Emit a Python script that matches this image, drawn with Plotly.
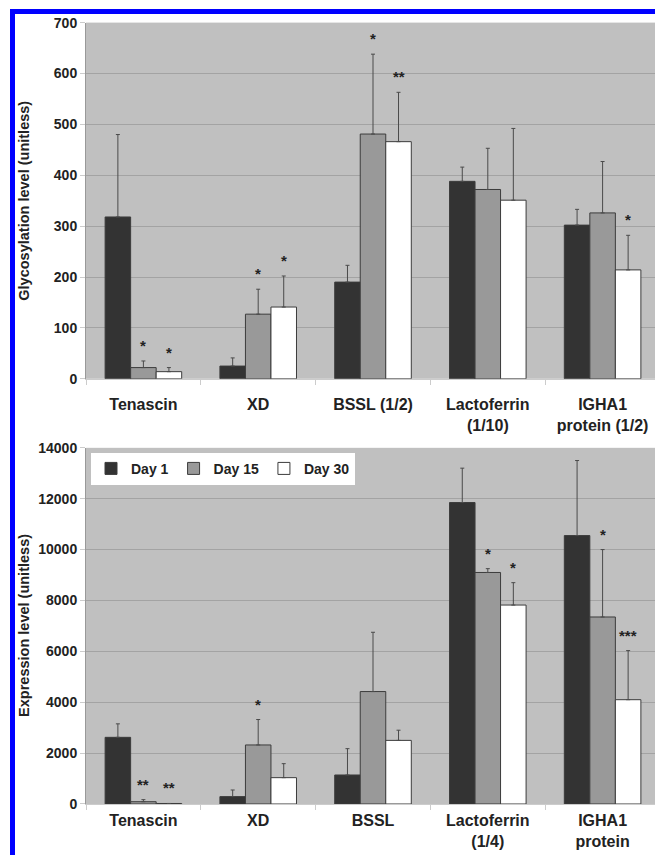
import plotly.graph_objects as go

# ---------------- data ----------------
categories_glyco = ["Tenascin", "XD", "BSSL (1/2)", "Lactoferrin<br>(1/10)", "IGHA1<br>protein (1/2)"]
categories_expr = ["Tenascin", "XD", "BSSL", "Lactoferrin<br>(1/4)", "IGHA1<br>protein"]
series_names = ["Day 1", "Day 15", "Day 30"]

glyco_day1 = [318, 25, 190, 388, 302]
glyco_day15 = [22, 127, 481, 372, 326]
glyco_day30 = [14, 141, 466, 351, 214]
glyco_err_day1 = [162, 16, 33, 28, 31]
glyco_err_day15 = [13, 49, 157, 81, 101]
glyco_err_day30 = [8, 61, 97, 141, 68]
glyco_sig_day1 = ["", "", "", "", ""]
glyco_sig_day15 = ["*", "*", "*", "", ""]
glyco_sig_day30 = ["*", "*", "**", "", "*"]

expr_day1 = [2620, 290, 1140, 11850, 10550]
expr_day15 = [90, 2320, 4420, 9100, 7350]
expr_day30 = [20, 1035, 2500, 7820, 4100]
expr_err_day1 = [530, 260, 1035, 1350, 2950]
expr_err_day15 = [80, 1000, 2330, 150, 2650]
expr_err_day30 = [0, 550, 400, 880, 1930]
expr_sig_day1 = ["", "", "", "", ""]
expr_sig_day15 = ["**", "*", "", "*", "*"]
expr_sig_day30 = ["**", "", "", "*", "***"]

glyco_ticks = [0, 100, 200, 300, 400, 500, 600, 700]
expr_ticks = [0, 2000, 4000, 6000, 8000, 10000, 12000, 14000]

glyco_title = "Glycosylation level (unitless)"
expr_title = "Expression level (unitless)"

# ---------------- style ----------------
colors = ["#333333", "#999999", "#ffffff"]
FONT = "Liberation Sans, Arial, sans-serif"
TXT = "#222222"
W, H = 655, 855
BARGAP = 0.333
bar_w = (1 - BARGAP) / 3


def py(y_px):
    """target pixel row -> paper fraction (compensates the capture's vertical fit)"""
    return 1 - ((y_px - 7.4) / 0.9808) / H


panels = [
    dict(cats=categories_glyco, vals=[glyco_day1, glyco_day15, glyco_day30],
         errs=[glyco_err_day1, glyco_err_day15, glyco_err_day30],
         sigs=[glyco_sig_day1, glyco_sig_day15, glyco_sig_day30],
         xa="x", ya="y", legend=False),
    dict(cats=categories_expr, vals=[expr_day1, expr_day15, expr_day30],
         errs=[expr_err_day1, expr_err_day15, expr_err_day30],
         sigs=[expr_sig_day1, expr_sig_day15, expr_sig_day30],
         xa="x2", ya="y2", legend=True),
]

fig = go.Figure()
annotations = []
for p in panels:
    for i, name in enumerate(series_names):
        fig.add_trace(go.Bar(
            x=p["cats"], y=p["vals"][i], name=name,
            marker=dict(color=colors[i], line=dict(color="#3c3c3c", width=1)),
            error_y=dict(type="data", symmetric=False, array=p["errs"][i],
                         arrayminus=[0] * len(p["errs"][i]),
                         color="#4a4a4a", thickness=1, width=2),
            xaxis=p["xa"], yaxis=p["ya"], showlegend=p["legend"],
            legendgroup=name,
        ))
        for j, s in enumerate(p["sigs"][i]):
            if s:
                annotations.append(dict(
                    x=j + (i - 1) * bar_w, y=p["vals"][i][j] + p["errs"][i][j],
                    xref=p["xa"], yref=p["ya"], text=s, showarrow=False,
                    yanchor="bottom", yshift=5,
                    font=dict(family=FONT, size=15, color=TXT, weight="bold"),
                ))

x_dom = [86 / W, 1.0]
top_dom = [py(378), py(22)]
bot_dom = [py(803), py(447)]
x_range = [-0.5, 4.5 - 5 / 114.75]

# y-axis titles (rotated text to the left of each panel)
for text, dom in [(glyco_title, top_dom), (expr_title, bot_dom)]:
    annotations.append(dict(
        x=24 / W, y=(dom[0] + dom[1]) / 2, xref="paper", yref="paper",
        text=text, textangle=-90, showarrow=False, xanchor="center", yanchor="middle",
        font=dict(family=FONT, size=14.5, color=TXT, weight="bold"),
    ))


def xaxis_style(anchor, standoff):
    return dict(
        type="category", range=x_range, domain=x_dom, showgrid=False, anchor=anchor,
        showline=True, linecolor="#cccccc", linewidth=1,
        ticks="outside", tickson="boundaries", ticklen=5, tickcolor="#cccccc",
        tickfont=dict(family=FONT, size=16, color=TXT, weight="bold"),
        ticklabelstandoff=standoff,
    )


common_y = dict(
    showgrid=True, gridcolor="#a3a3a3", gridwidth=1, zeroline=False,
    showline=True, linecolor="#999999", linewidth=1,
    ticks="outside", ticklen=5, tickcolor="#cccccc", tickformat="d",
    tickfont=dict(family=FONT, size=14, color=TXT, weight="bold"),
)

fig.update_layout(
    width=W, height=H, autosize=False,
    margin=dict(l=0, r=0, t=0, b=0),
    paper_bgcolor="white", plot_bgcolor="#c0c0c0",
    barmode="group", bargap=BARGAP, bargroupgap=0,
    xaxis=xaxis_style("y", 11),
    yaxis=dict(**common_y, domain=top_dom, range=[0, 700], tickvals=glyco_ticks, anchor="x"),
    xaxis2=xaxis_style("y2", 2),
    yaxis2=dict(**common_y, domain=bot_dom, range=[0, 14000], tickvals=expr_ticks, anchor="x2"),
    legend=dict(orientation="h", x=91 / W, y=py(452), xanchor="left", yanchor="top",
                bgcolor="white", borderwidth=0, itemwidth=30, traceorder="normal",
                font=dict(family=FONT, size=14, color=TXT, weight="bold")),
    annotations=annotations,
    shapes=[dict(type="rect", xref="paper", yref="paper",
                 x0=12.5 / W, x1=1.05, y0=-0.05, y1=py(11),
                 line=dict(color="#0000ff", width=5), fillcolor="rgba(0,0,0,0)",
                 layer="above")],
)

fig.write_html(
    "out.html",
    config={"displayModeBar": False},
    post_script="document.body.style.margin='0';document.body.style.overflow='hidden';",
)
